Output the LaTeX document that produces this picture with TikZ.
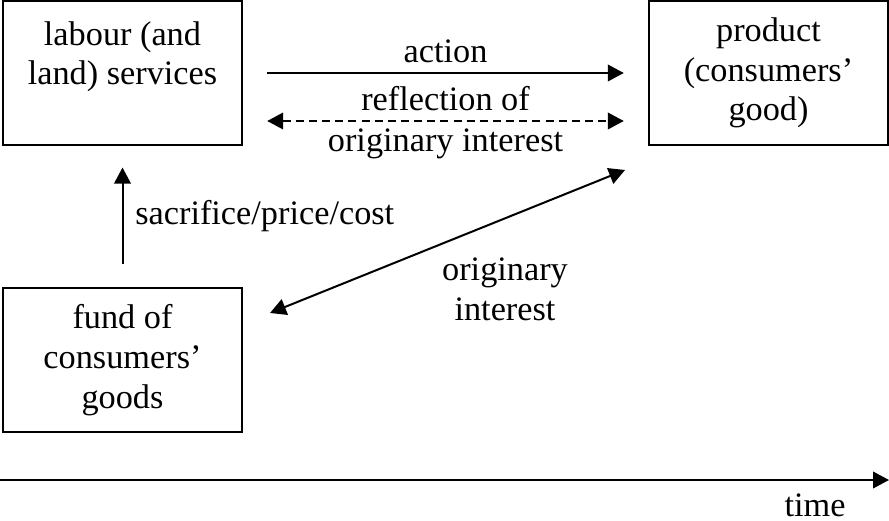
\documentclass[tikz,border=0pt]{standalone}
\usepackage{fontspec}
\setmainfont{Liberation Serif}
\usepackage{tikz}
\usetikzlibrary{arrows.meta,positioning,calc}
\tikzstyle{goodsbox}=[draw,line width=0.8pt,minimum width=83.7pt,minimum height=50.4pt,align=center,inner sep=0pt]
\tikzstyle{flow}=[line width=0.7pt,-{Triangle[length=5.6pt,width=5.8pt]}]
\tikzstyle{twoway}=[line width=0.7pt,{Triangle[length=5.6pt,width=5.8pt]}-{Triangle[length=5.6pt,width=5.8pt]}]

\begin{document}
\begin{tikzpicture}[x=0.35pt,y=-0.35pt,font=\fontsize{12}{13.9}\selectfont]
\useasboundingbox (0,0) rectangle (889,521);
\node [goodsbox] (labour) at (122.5,73) {labour (and\\land) services\\~};
\node [goodsbox] (product) at (768.5,73) {product\\(consumers'\\good)};
\node [goodsbox] (fund) at (122.5,360) {fund of\\consumers'\\goods};
% arrows between the boxes
\draw [flow,shorten <=8.4pt,shorten >=8.4pt] (labour.east) -- node [above] (actionlbl) {action} (product.west);
\draw [twoway,dash pattern=on 2.8pt off 1.8pt,shorten <=8.4pt,shorten >=8.4pt]
  ($(labour.east)+(0,48)$) -- node [above] (reflectlbl) {reflection of}
  node [below=-1pt] (interestlbl) {originary interest} ($(product.west)+(0,48)$);
\draw [flow,shorten <=8pt,shorten >=7.5pt] (fund.north) -- node [right=0.8pt] (costlbl) {sacrifice/price/cost} (labour.south);
\coordinate (fundtip) at (270,313);
\coordinate (producttip) at (625,170);
\draw [twoway] (fundtip) -- (producttip);
\node [align=center] (originary) at (505,289) {originary\\interest};
% time axis
\coordinate (t0) at (0,480);
\coordinate (t1) at (889,480);
\draw [flow] (t0) -- (t1);
\node (timelbl) at (815,505) {time};
\end{tikzpicture}
\end{document}
